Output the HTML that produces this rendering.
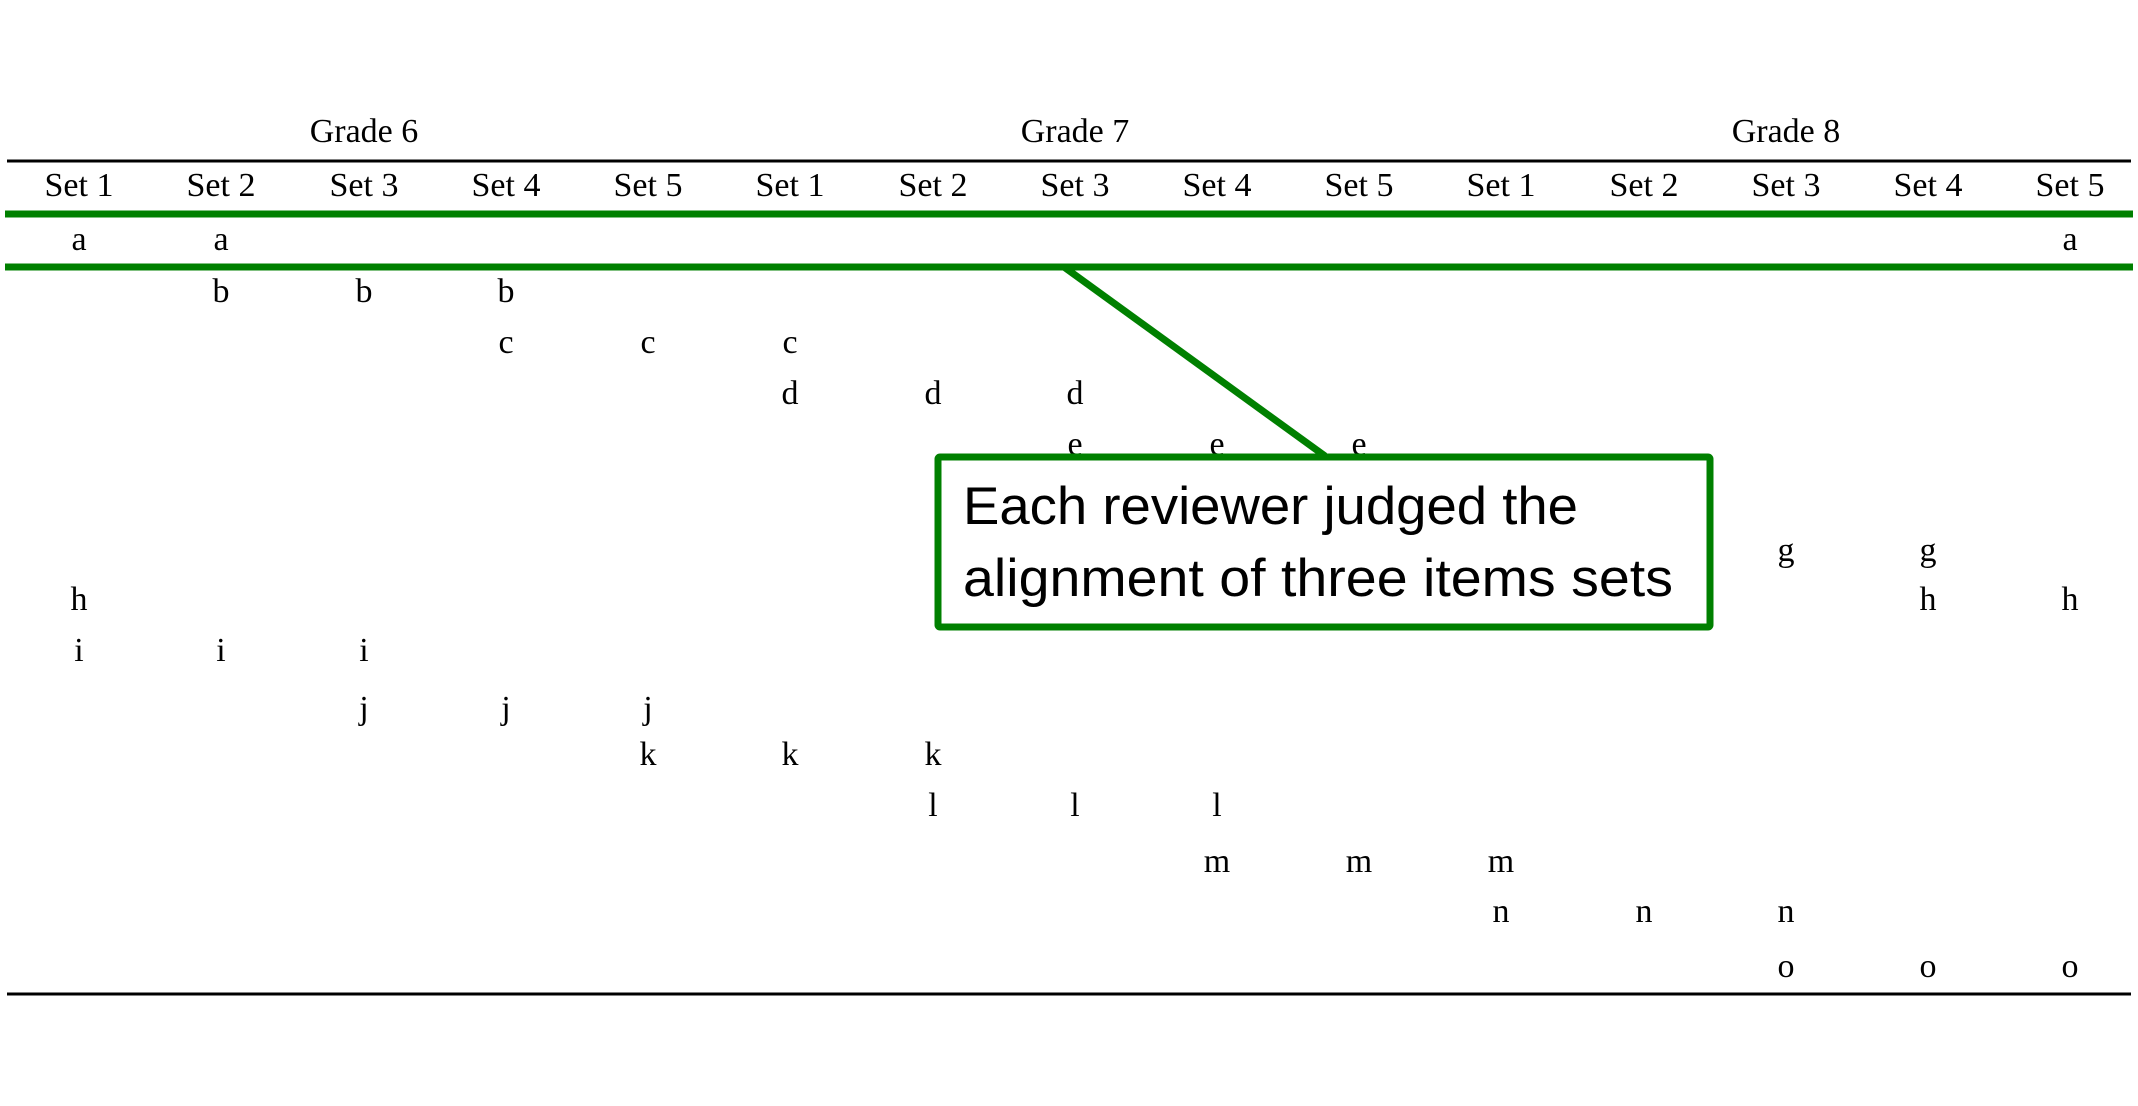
<!DOCTYPE html>
<html><head><meta charset="utf-8"><style>html,body{margin:0;padding:0;background:#fff}svg{display:block}</style></head>
<body>
<svg width="2138" height="1106" viewBox="0 0 2138 1106" xmlns="http://www.w3.org/2000/svg">
<rect width="2138" height="1106" fill="#fff"/>
<g font-family="Liberation Serif, serif" font-size="34" text-anchor="middle" fill="#000">
<text x="364" y="142">Grade 6</text>
<text x="1075" y="142">Grade 7</text>
<text x="1786" y="142">Grade 8</text>
</g>
<line x1="7" y1="161" x2="2131" y2="161" stroke="#000" stroke-width="3"/>
<g font-family="Liberation Serif, serif" font-size="34" text-anchor="middle" fill="#000">
<text x="79" y="196">Set 1</text><text x="221" y="196">Set 2</text><text x="364" y="196">Set 3</text><text x="506" y="196">Set 4</text><text x="648" y="196">Set 5</text>
<text x="790" y="196">Set 1</text><text x="933" y="196">Set 2</text><text x="1075" y="196">Set 3</text><text x="1217" y="196">Set 4</text><text x="1359" y="196">Set 5</text>
<text x="1501" y="196">Set 1</text><text x="1644" y="196">Set 2</text><text x="1786" y="196">Set 3</text><text x="1928" y="196">Set 4</text><text x="2070" y="196">Set 5</text>
</g>
<g font-family="Liberation Serif, serif" font-size="34" text-anchor="middle" fill="#000">
<text x="79" y="250">a</text><text x="221" y="250">a</text><text x="2070" y="250">a</text>
<text x="221" y="302">b</text><text x="364" y="302">b</text><text x="506" y="302">b</text>
<text x="506" y="353">c</text><text x="648" y="353">c</text><text x="790" y="353">c</text>
<text x="790" y="404">d</text><text x="933" y="404">d</text><text x="1075" y="404">d</text>
<text x="1075" y="455">e</text><text x="1217" y="455">e</text><text x="1359" y="455">e</text>
<text x="1359" y="506">f</text><text x="1501" y="506">f</text><text x="1644" y="506">f</text>
<text x="1644" y="561">g</text><text x="1786" y="561">g</text><text x="1928" y="561">g</text>
<text x="79" y="610">h</text><text x="1928" y="610">h</text><text x="2070" y="610">h</text>
<text x="79" y="661">i</text><text x="221" y="661">i</text><text x="364" y="661">i</text>
<text x="364" y="719">j</text><text x="506" y="719">j</text><text x="648" y="719">j</text>
<text x="648" y="765">k</text><text x="790" y="765">k</text><text x="933" y="765">k</text>
<text x="933" y="816">l</text><text x="1075" y="816">l</text><text x="1217" y="816">l</text>
<text x="1217" y="872">m</text><text x="1359" y="872">m</text><text x="1501" y="872">m</text>
<text x="1501" y="922">n</text><text x="1644" y="922">n</text><text x="1786" y="922">n</text>
<text x="1786" y="977">o</text><text x="1928" y="977">o</text><text x="2070" y="977">o</text>
</g>
<line x1="7" y1="994" x2="2131" y2="994" stroke="#000" stroke-width="3"/>
<line x1="5" y1="214" x2="2133" y2="214" stroke="#008000" stroke-width="7"/>
<line x1="5" y1="267" x2="2133" y2="267" stroke="#008000" stroke-width="7"/>
<line x1="1064" y1="267" x2="1325" y2="456" stroke="#008000" stroke-width="7"/>
<rect x="938" y="457" width="772" height="170" fill="#fff" stroke="#008000" stroke-width="7" rx="2"/>
<g font-family="Liberation Sans, sans-serif" font-size="53" fill="#000">
<text x="963" y="524" textLength="615" lengthAdjust="spacingAndGlyphs">Each reviewer judged the</text>
<text x="963" y="596" textLength="710" lengthAdjust="spacingAndGlyphs">alignment of three items sets</text>
</g>
</svg>
</body></html>
